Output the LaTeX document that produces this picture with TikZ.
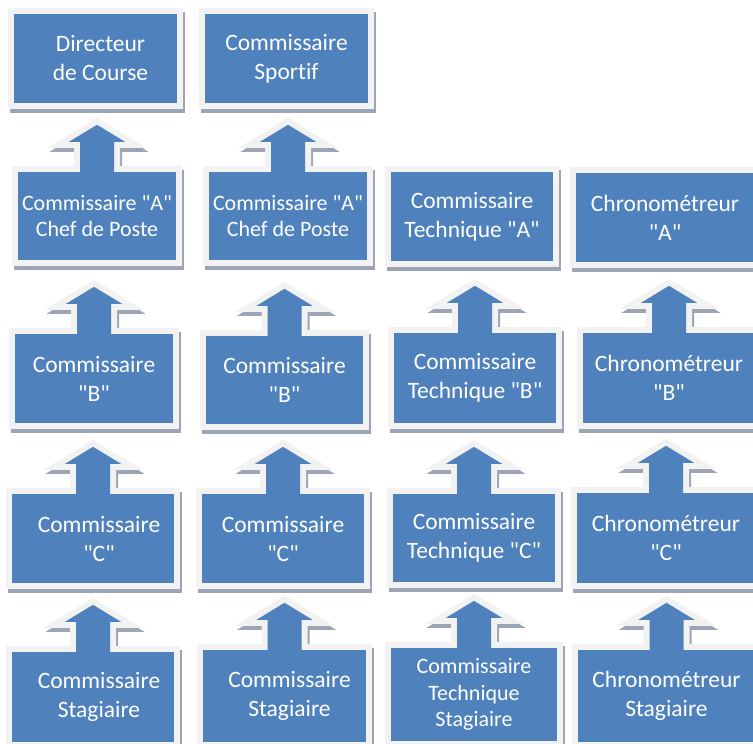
\documentclass[tikz,border=0pt]{standalone}
\usepackage{fontspec}
\setmainfont{Carlito}[Ligatures={TeXOff,NoCommon}]
\usepackage{xcolor}
\usepackage{tikz}
\definecolor{boxblue}{HTML}{4F81BD}
\definecolor{framegray}{HTML}{F2F2F2}
\definecolor{shadowgray}{HTML}{9CA5B6}
\pgfdeclarelayer{shadowlayer}
\pgfdeclarelayer{framelayer}
\pgfsetlayers{shadowlayer,framelayer,main}
\tikzset{
box/.style={
  fill=boxblue,
  text=white,
  align=center,
  inner sep=0pt,
  font=\fontsize{23.5}{29}\selectfont
  },
smalltext/.style={font=\fontsize{22}{26.5}\selectfont},
boxframe/.style={draw=framegray, line width=12pt, line join=miter},
boxshadow/.style={draw=shadowgray, line width=12pt, line join=miter,
  transform canvas={shift={(2pt,-4pt)}}}
}
\newcommand{\boxedge}[1]{%
  \begin{pgfonlayer}{shadowlayer}
    \draw[boxshadow] (#1.north west) rectangle (#1.south east);
  \end{pgfonlayer}
  \begin{pgfonlayer}{framelayer}
    \draw[boxframe] (#1.north west) rectangle (#1.south east);
  \end{pgfonlayer}}
\newcommand{\arrowup}[1]{%
  \begin{pgfonlayer}{shadowlayer}
    \draw[boxshadow] (#1.north) ++(-17,1) -- ++(0,-31) -- ++(-11,0) -- ++(28,-17)
      -- ++(28,17) -- ++(-11,0) -- ++(0,31) -- cycle;
  \end{pgfonlayer}
  \begin{pgfonlayer}{framelayer}
    \draw[boxframe] (#1.north) ++(-17,1) -- ++(0,-31) -- ++(-11,0) -- ++(28,-17)
      -- ++(28,17) -- ++(-11,0) -- ++(0,31) -- cycle;
  \end{pgfonlayer}
  \fill[boxblue] (#1.north) ++(-17,1) -- ++(0,-31) -- ++(-11,0) -- ++(28,-17)
    -- ++(28,17) -- ++(-11,0) -- ++(0,31) -- cycle;}

\begin{document}
\begin{tikzpicture}[x=1pt,y=-1pt]
\useasboundingbox (0,0) rectangle (753,744);
% top row
\node[box, minimum width=163pt, minimum height=89pt](dirc) at (95.5,58.5) {\hspace*{10pt}Directeur\\\hspace*{10pt}de Course};
\node[box, minimum width=163pt, minimum height=89pt](comsp) at (286.5,58.5) {Commissaire\\Sportif};
% grade A
\node[box, smalltext, minimum width=158pt, minimum height=88pt](comA1) at (97,216) {Commissaire "A"\\Chef de Poste};
\node[box, smalltext, minimum width=158pt, minimum height=88pt](comA2) at (288,216) {Commissaire "A"\\Chef de Poste};
\node[box, minimum width=162pt, minimum height=89pt](techA) at (472,216.5) {Commissaire\\Technique "A"};
\node[box, minimum width=178pt, minimum height=89pt](chronoA) at (665,217.5) {Chronométreur\\"A"};
% grade B
\node[box, minimum width=158pt, minimum height=89pt](comB1) at (94,378.5) {Commissaire\\"B"};
\node[box, minimum width=157pt, minimum height=88pt](comB2) at (284.5,380) {Commissaire\\"B"};
\node[box, minimum width=162pt, minimum height=90pt](techB) at (475,378) {Commissaire\\Technique "B"};
\node[box, minimum width=172pt, minimum height=90pt](chronoB) at (669,378) {Chronométreur\\"B"};
% grade C
\node[box, minimum width=162pt, minimum height=89pt](comC1) at (93,538.5) {\hspace*{12pt}Commissaire\\\hspace*{12pt}"C"};
\node[box, minimum width=162pt, minimum height=89pt](comC2) at (283,538.5) {Commissaire\\"C"};
\node[box, minimum width=162pt, minimum height=88pt](techC) at (474,538) {Commissaire\\Technique "C"};
\node[box, minimum width=178pt, minimum height=90pt](chronoC) at (666,538) {Chronométreur\\"C"};
% stagiaires
\node[box, minimum width=162pt, minimum height=90pt](stag1) at (93,697) {\hspace*{12pt}Commissaire\\\hspace*{12pt}Stagiaire};
\node[box, minimum width=163pt, minimum height=92pt](stag2) at (284.5,696) {\hspace*{10pt}Commissaire\\\hspace*{10pt}Stagiaire};
\node[box, smalltext, minimum width=166pt, minimum height=93pt](techS) at (474,694.5) {Commissaire\\Technique\\Stagiaire};
\node[box, minimum width=177pt, minimum height=92pt](chronoS) at (666.5,696) {Chronométreur\\Stagiaire};
% frames and arrows
\foreach \n in {dirc,comsp,comA1,comA2,techA,chronoA,comB1,comB2,techB,chronoB,
  comC1,comC2,techC,chronoC,stag1,stag2,techS,chronoS} {\boxedge{\n}}
\foreach \n in {comA1,comA2,comB1,comB2,techB,chronoB,
  comC1,comC2,techC,chronoC,stag1,stag2,techS,chronoS} {\arrowup{\n}}
\end{tikzpicture}
\end{document}
